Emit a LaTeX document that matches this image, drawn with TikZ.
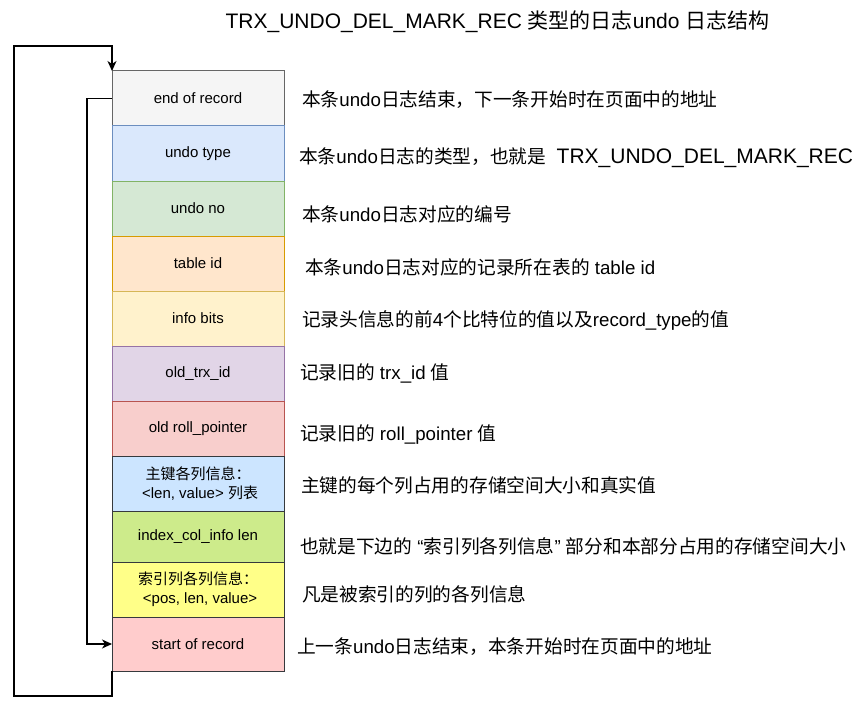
\documentclass[tikz,border=0pt]{standalone}
\usepackage{fontspec}
\setmainfont{Liberation Sans}
\newfontfamily\cjk{Noto Sans CJK SC}
\newcommand{\zh}[1]{{\cjk #1}}
\usetikzlibrary{positioning,arrows.meta}
\definecolor{endfill}{HTML}{F5F5F5}\definecolor{endline}{HTML}{666666}
\definecolor{typefill}{HTML}{DAE8FC}\definecolor{typeline}{HTML}{6C8EBF}
\definecolor{nofill}{HTML}{D5E8D4}\definecolor{noline}{HTML}{82B366}
\definecolor{tabfill}{HTML}{FFE6CC}\definecolor{tabline}{HTML}{D79B00}
\definecolor{infofill}{HTML}{FFF2CC}\definecolor{infoline}{HTML}{D6B656}
\definecolor{trxfill}{HTML}{E1D5E7}\definecolor{trxline}{HTML}{9673A6}
\definecolor{rollfill}{HTML}{F8CECC}\definecolor{rollline}{HTML}{B85450}
\definecolor{pkfill}{HTML}{CCE5FF}
\definecolor{lenfill}{HTML}{CDEB8B}
\definecolor{idxfill}{HTML}{FFFF88}
\definecolor{startfill}{HTML}{FFCCCC}
\definecolor{darkline}{HTML}{36393D}
\tikzstyle{field} = [draw, rectangle, minimum width=172pt, minimum height=55pt,
    inner sep=0pt, outer sep=0pt, line width=1pt, align=center,
    font=\fontsize{15}{19}\selectfont]
\tikzstyle{desc} = [inner sep=0pt, outer sep=0pt, font=\fontsize{18.7}{22}\selectfont]
\tikzstyle{link} = [line width=1.2pt]

\begin{document}
\begin{tikzpicture}[x=1pt, y=-1pt, node distance=0pt, >={Stealth[length=10pt,width=9pt,inset=3pt]}]
	  \useasboundingbox (0,0) rectangle (862,706);
	  \node [font=\fontsize{21}{24}\selectfont] (title) at (497.5,21.5) {TRX\_UNDO\_DEL\_MARK\_REC \zh{类型的日志}undo \zh{日志结构}};
	  % record fields
	  \node [field, fill=endfill, draw=endline] (end) at (198,98.5) {end of record};
	  \node [field, fill=typefill, draw=typeline, below=of end] (type) {undo type};
	  \node [field, fill=nofill, draw=noline, below=of type] (no) {undo no};
	  \node [field, fill=tabfill, draw=tabline, below=of no] (table) {table id};
	  \node [field, fill=infofill, draw=infoline, below=of table] (info) {info bits};
	  \node [field, fill=trxfill, draw=trxline, below=of info] (oldtrx) {old\_trx\_id};
	  \node [field, fill=rollfill, draw=rollline, below=of oldtrx] (oldroll) {old roll\_pointer};
	  \node [field, fill=pkfill, draw=darkline, below=of oldroll] (pk) {\zh{主键各列信息：}\\\ <len, value> \zh{列表}};
	  \node [field, fill=lenfill, draw=darkline, minimum height=51pt, below=of pk] (idxlen) {index\_col\_info len};
	  \node [field, fill=idxfill, draw=darkline, below=of idxlen] (idx) {\zh{索引列各列信息：}\\\ <pos, len, value>};
	  \node [field, fill=startfill, draw=darkline, minimum height=54pt, below=of idx] (start) {start of record};
	  % descriptions
	  \node [desc, right=18pt of end, yshift=-1.5pt] (endtxt) {\zh{本条}undo\zh{日志结束，下一条开始时在页面中的地址}};
	  \node [desc, right=15pt of type, yshift=-4.5pt] (typetxt) {\zh{本条}undo\zh{日志的类型，也就是}\ \ {\fontsize{21}{24}\selectfont TRX\_UNDO\_DEL\_MARK\_REC}};
	  \node [desc, right=18pt of no, yshift=-5.5pt] (notxt) {\zh{本条}undo\zh{日志对应的编号}};
	  \node [desc, right=21pt of table, yshift=-4pt] (tabletxt) {\zh{本条}undo\zh{日志对应的记录所在表的} table id};
	  \node [desc, right=18pt of info, yshift=-1.5pt] (infotxt) {\zh{记录头信息的前}4\zh{个比特位的值以及}record\_type\zh{的值}};
	  \node [desc, right=16pt of oldtrx] (oldtrxtxt) {\zh{记录旧的} trx\_id \zh{值}};
	  \node [desc, right=16pt of oldroll, yshift=-6pt] (oldrolltxt) {\zh{记录旧的} roll\_pointer \zh{值}};
	  \node [desc, right=17pt of pk, yshift=-2pt] (pktxt) {\zh{主键的每个列占用的存储空间大小和真实值}};
	  \node [desc, right=16pt of idxlen, yshift=-10pt] (idxlentxt) {\zh{也就是下边的} “\zh{索引列各列信息}” \zh{部分和本部分占用的存储空间大小}};
	  \node [desc, right=18pt of idx, yshift=-5pt] (idxtxt) {\zh{凡是被索引的列的各列信息}};
	  \node [desc, right=13pt of start, yshift=-2.5pt] (starttxt) {\zh{上一条}undo\zh{日志结束，本条开始时在页面中的地址}};
	  % links between records
	  \coordinate (loopbot) at (14,696);
	  \coordinate (looptop) at (14,46);
	  \draw [link,->] (start.south west) |- (loopbot) -- (looptop) -| (end.north west);
	  \draw [link,->] (end.west) -- ++(-25,0) |- (start.west);
	\end{tikzpicture}
\end{document}
